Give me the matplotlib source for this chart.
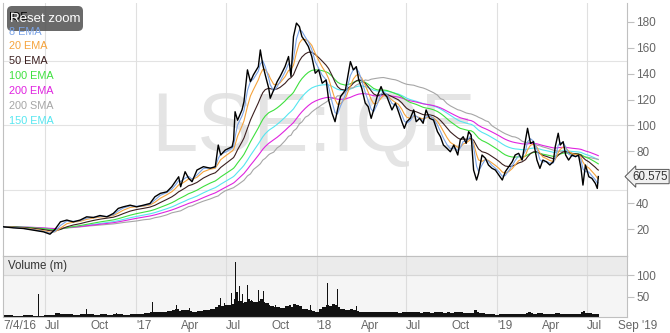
import matplotlib
matplotlib.use('agg')
import matplotlib.pyplot as plt
from matplotlib.patches import FancyBboxPatch
from matplotlib.transforms import IdentityTransform, blended_transform_factory, ScaledTranslation
import numpy as np
import pandas as pd

plt.rcParams['font.family'] = ['Liberation Sans', 'DejaVu Sans']

# IQE close (p)
dates = [
    '2016-04-08', '2016-04-28', '2016-05-18', '2016-06-07', '2016-06-28', '2016-07-11', '2016-07-21', '2016-08-01',
    '2016-08-14', '2016-08-27', '2016-09-10', '2016-09-23', '2016-10-07', '2016-10-20', '2016-11-03', '2016-11-16',
    '2016-11-26', '2016-12-06', '2016-12-20', '2017-01-02', '2017-01-16', '2017-01-29', '2017-02-08', '2017-02-19',
    '2017-03-04', '2017-03-14', '2017-03-21', '2017-03-28', '2017-04-01', '2017-04-10', '2017-04-17', '2017-04-24',
    '2017-05-04', '2017-05-17', '2017-05-31', '2017-06-10', '2017-06-16', '2017-06-21', '2017-06-30', '2017-07-14',
    '2017-07-17', '2017-07-20', '2017-07-25', '2017-08-03', '2017-08-07', '2017-08-14', '2017-08-20', '2017-08-26',
    '2017-09-05', '2017-09-09', '2017-09-14', '2017-09-19', '2017-09-26', '2017-09-29', '2017-10-06', '2017-10-13',
    '2017-10-19', '2017-10-29', '2017-11-05', '2017-11-10', '2017-11-15', '2017-11-21', '2017-11-27', '2017-12-02',
    '2017-12-09', '2017-12-15', '2017-12-22', '2017-12-29', '2018-01-05', '2018-01-12', '2018-01-20', '2018-01-25',
    '2018-02-01', '2018-02-07', '2018-02-12', '2018-02-18', '2018-02-28', '2018-03-10', '2018-03-16', '2018-03-22',
    '2018-03-27', '2018-04-02', '2018-04-09', '2018-04-15', '2018-04-21', '2018-04-26', '2018-05-03', '2018-05-11',
    '2018-05-16', '2018-05-23', '2018-06-02', '2018-06-09', '2018-06-15', '2018-06-22', '2018-06-27', '2018-07-02',
    '2018-07-09', '2018-07-16', '2018-07-21', '2018-07-28', '2018-08-04', '2018-08-10', '2018-08-17', '2018-08-25',
    '2018-09-02', '2018-09-08', '2018-09-14', '2018-09-21', '2018-09-28', '2018-10-05', '2018-10-13', '2018-10-18',
    '2018-10-24', '2018-10-30', '2018-11-04', '2018-11-09', '2018-11-14', '2018-11-20', '2018-11-24', '2018-12-01',
    '2018-12-08', '2018-12-14', '2018-12-21', '2018-12-28', '2019-01-04', '2019-01-11', '2019-01-17', '2019-01-24',
    '2019-01-31', '2019-02-06', '2019-02-13', '2019-02-20', '2019-02-27', '2019-03-03', '2019-03-09', '2019-03-15',
    '2019-03-22', '2019-03-28', '2019-04-03', '2019-04-10', '2019-04-17', '2019-04-24', '2019-04-28', '2019-05-04',
    '2019-05-08', '2019-05-14', '2019-05-19', '2019-05-25', '2019-06-01', '2019-06-08', '2019-06-14', '2019-06-19',
    '2019-06-23', '2019-06-28', '2019-07-05', '2019-07-11', '2019-07-18', '2019-07-22', '2019-07-24',
]
prices = [
    21.8, 21.0, 20.5, 19.2, 17.9, 16.1, 19.8, 25.6,
    27.0, 25.6, 27.0, 29.5, 29.0, 30.5, 29.5, 32.1,
    36.0, 37.2, 38.5, 37.2, 38.5, 39.8, 45.0, 47.6,
    48.8, 52.7, 56.6, 60.4, 52.7, 64.3, 59.3, 56.6,
    65.6, 68.2, 67.0, 68.2, 84.9, 77.2, 81.0, 83.6,
    88.8, 110.6, 104.0, 112.0, 118.4, 142.9, 133.8, 139.0,
    145.4, 158.3, 146.7, 139.0, 128.7, 121.0, 127.4, 133.8,
    137.8, 145.5, 153.2, 137.8, 168.6, 179.0, 176.3, 168.6,
    164.8, 161.0, 153.2, 140.3, 142.9, 132.6, 135.1, 119.7,
    109.4, 102.9, 112.0, 122.2, 127.4, 149.3, 142.9, 145.4,
    135.1, 128.7, 117.3, 114.5, 105.5, 112.0, 122.2, 130.0,
    124.9, 122.0, 112.0, 117.2, 110.8, 102.9, 97.8, 102.9,
    105.5, 112.0, 102.9, 105.5, 101.7, 112.0, 105.5, 104.2,
    95.2, 91.3, 84.9, 82.4, 79.7, 84.9, 77.2, 88.8,
    91.3, 86.2, 95.2, 92.6, 65.6, 57.9, 63.0, 77.2,
    74.6, 69.5, 67.0, 65.6, 61.7, 57.9, 64.3, 68.2,
    72.0, 77.2, 78.5, 73.3, 88.8, 97.8, 86.2, 87.5,
    73.3, 66.9, 73.3, 72.0, 69.5, 72.0, 83.6, 94.0,
    84.9, 87.5, 77.2, 73.3, 77.2, 75.9, 77.2, 66.9,
    54.0, 69.5, 60.4, 59.2, 55.3, 51.4, 60.575,
]
# volume (m) on the same dates
volumes = [
    6, 5, 6, 5, 7, 8, 12, 10,
    9, 8, 9, 10, 8, 9, 8, 10,
    9, 8, 9, 10, 12, 14, 15, 14,
    16, 18, 20, 16, 18, 18, 16, 15,
    17, 18, 20, 25, 30, 28, 30, 32,
    45, 60, 40, 35, 38, 45, 40, 38,
    40, 45, 38, 35, 30, 28, 26, 25,
    24, 28, 30, 26, 32, 30, 28, 22,
    20, 18, 16, 15, 20, 25, 30, 28,
    32, 30, 26, 22, 18, 20, 18, 16,
    14, 15, 14, 13, 15, 14, 13, 15,
    14, 13, 14, 13, 12, 14, 15, 13,
    14, 15, 13, 12, 13, 14, 12, 13,
    14, 13, 12, 13, 12, 13, 15, 14,
    12, 11, 12, 11, 18, 14, 12, 11,
    10, 10, 9, 8, 9, 10, 9, 10,
    9, 10, 9, 10, 12, 13, 11, 10,
    12, 11, 10, 9, 9, 10, 11, 12,
    10, 9, 10, 9, 10, 9, 10, 14,
    16, 12, 11, 10, 9, 10, 9,
]
spike_dates = [
    '2016-06-17', '2016-07-21', '2016-09-22', '2016-11-23', '2017-02-03', '2017-03-23', '2017-04-19',
    '2017-06-20', '2017-06-29', '2017-07-12', '2017-07-21', '2017-07-29', '2017-08-04', '2017-08-14',
    '2017-08-22', '2017-09-06', '2017-09-15', '2017-09-23', '2017-10-10', '2017-11-08', '2017-12-20',
    '2018-01-22', '2018-02-07', '2018-02-12', '2018-03-22', '2018-08-30', '2018-11-13', '2019-06-21',
]
spike_volumes = [
    55, 20, 20, 12, 38, 30, 24,
    47, 35, 58, 132, 74, 55, 76,
    43, 66, 62, 35, 30, 43, 31,
    82, 66, 68, 27, 24, 21, 59,
]

ma_labels = ['8 EMA', '20 EMA', '50 EMA', '100 EMA', '200 EMA', '200 SMA', '150 EMA']
ma_periods = [8, 20, 50, 100, 200, 200, 150]
ma_colors = ['#7aa3e6', '#f5a33c', '#3b1f1f', '#3ee03e', '#e024e0', '#a6a6a6', '#55e6f0']

price_ticks = [20, 40, 60, 80, 100, 120, 140, 160, 180]
price_tick_labels = ['20', '40', '', '80', '100', '120', '140', '160', '180']  # 60 sits under the price flag
tick_dates = ['2016-04-07', '2016-07-01', '2016-10-01', '2017-01-01', '2017-04-01', '2017-07-01', '2017-10-01',
              '2018-01-01', '2018-04-01', '2018-07-01', '2018-10-01', '2019-01-01', '2019-04-01', '2019-07-01',
              '2019-09-01']
tick_labels = ['7/4/16', 'Jul', 'Oct', "'17", 'Apr', 'Jul', 'Oct', "'18", 'Apr', 'Jul', 'Oct', "'19", 'Apr', 'Jul',
               "Sep '19"]
grid_dates = ['2016-07-01', '2017-01-01', '2017-07-01', '2018-01-01', '2018-07-01', '2019-01-01', '2019-07-01']

W, H = 670, 333
fig = plt.figure(figsize=(W / 100, H / 100), dpi=100)
ax = fig.add_axes([3 / W, 1 - 255.7 / H, 624 / W, 252.7 / H])
axv = fig.add_axes([3 / W, 1 - 316.7 / H, 624 / W, 60.7 / H], sharex=ax)

d = pd.to_datetime(dates)
x = np.array(prices)
t = np.asarray((d - d[0]).days, dtype=float)


def ema(period):
    # EMA on uneven samples; period counts trading days
    tau = -1 / np.log(1 - 2 / (period + 1)) * 7 / 5
    out = np.empty_like(x)
    out[0] = x[0]
    for i in range(1, len(x)):
        a = (t[i] - t[i - 1]) / tau
        w = np.exp(-a)
        w2 = (1 - w) / a
        out[i] = out[i - 1] * w + x[i] * (1 - w2) + x[i - 1] * (w2 - w)
    return out


def sma(period):
    span = period * 7 / 5
    wt = np.gradient(t)
    out = np.empty_like(x)
    for i in range(len(x)):
        m = (t > t[i] - span) & (t <= t[i])
        out[i] = np.sum(wt[m] * x[m]) / np.sum(wt[m])
    return out


# watermark
ax.text(0.497, 0.415, 'LSE:IQE', transform=ax.transAxes, ha='center', va='baseline',
        fontsize=60, color='#e4e4e4', zorder=0)

# grid
for v in [50, 100, 150]:
    ax.axhline(v, color='#e3e3e3', lw=0.8, zorder=0.5)
for g in pd.to_datetime(grid_dates):
    ax.axvline(g, color='#e0e0e0', lw=0.8, zorder=0.5)
    axv.axvline(g, color='#dcdcdc', lw=0.8, zorder=0.5)

# moving averages, slowest at the back
for i in [5, 4, 6, 3, 2, 1, 0]:
    line = sma(ma_periods[i]) if ma_labels[i].endswith('SMA') else ema(ma_periods[i])
    ax.plot(d, line, color=ma_colors[i], lw=0.8, zorder=2 + (6 - i) * 0.1)
ax.plot(d, prices, color='#000000', lw=1.0, zorder=3)

ax.set_xlim(pd.Timestamp('2016-04-07'), pd.Timestamp('2019-09-20'))
ax.set_ylim(-0.5, 194.5)
ax.yaxis.tick_right()
ax.set_yticks(price_ticks)
ax.set_yticklabels(price_tick_labels)
ax.tick_params(axis='y', length=5, width=0.8, color='#c0c0c0', labelcolor='#666666', labelsize=8.5, pad=1.5)
ax.tick_params(axis='x', bottom=False, labelbottom=False)
for side in ['left', 'right', 'bottom']:
    ax.spines[side].set_color('#c0c0c0')
    ax.spines[side].set_linewidth(0.8)
ax.spines['top'].set_visible(False)

# last price flag
last = blended_transform_factory(ax.transAxes, ax.transData) + ScaledTranslation(5.5 / 100, 0, fig.dpi_scale_trans)
ax.text(1.0, prices[-1], f'{prices[-1]:.3f}', transform=last, ha='left', va='center', fontsize=8.3,
        color='#333333', clip_on=False,
        bbox=dict(boxstyle='larrow,pad=0.1', fc='#f0f0f0', ec='#555555', lw=0.7))

# volume
vol_width = np.append(np.diff(t), 2.0)
axv.set_facecolor('#f5f5f5')
axv.axhspan(100, 145, color='#ebebeb', zorder=0)
axv.axhline(100, color='#d6d6d6', lw=0.8, zorder=0.5)
axv.bar(d, volumes, width=vol_width, align='edge', color='#111111', zorder=2)
axv.bar(pd.to_datetime(spike_dates), spike_volumes, width=1.6, color='#111111', zorder=2)
axv.set_ylim(3, 145)
axv.yaxis.tick_right()
axv.set_yticks([50, 100])
axv.tick_params(axis='y', length=5, width=0.8, color='#c0c0c0', labelcolor='#666666', labelsize=8.5, pad=1.5)
axv.set_xticks(pd.to_datetime(tick_dates))
axv.set_xticklabels(tick_labels, ha='left')
axv.tick_params(axis='x', length=0, labelcolor='#666666', labelsize=8.5, pad=2.5)
for side in ['left', 'right', 'bottom', 'top']:
    axv.spines[side].set_color('#c0c0c0')
    axv.spines[side].set_linewidth(0.8)
fig.text(8 / W, 1 - 266 / H, 'Volume (m)', fontsize=8.3, color='#333333', va='center')

# legend
fig.text(9 / W, 1 - 17 / H, 'IQE', fontsize=7.8, color='#000000', va='center')
legend_y = [31.7, 45.7, 60.7, 76, 90.7, 106, 120.7]
for lab, col, y in zip(ma_labels, ma_colors, legend_y):
    fig.text(9 / W, 1 - y / H, lab, fontsize=7.8, color=col, va='center')

# reset zoom button
btn = FancyBboxPatch((7, H - 31), 76, 25, boxstyle='round,pad=0,rounding_size=5',
                     transform=IdentityTransform(), fc='#555555', ec='none', alpha=0.88)
fig.patches.append(btn)
fig.text(45 / W, 1 - 18.5 / H, 'Reset zoom', fontsize=9.5, color='white', ha='center', va='center')

fig.savefig('out.png', dpi=100)
